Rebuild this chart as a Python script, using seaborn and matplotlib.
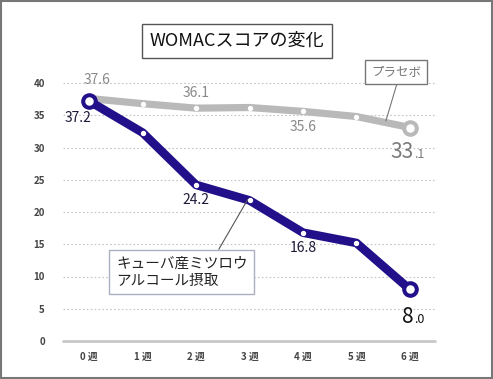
import numpy as np
import pandas as pd
import matplotlib
matplotlib.use('Agg')
import matplotlib.pyplot as plt
import seaborn as sns

# Data
weeks        = [0, 1, 2, 3, 4, 5, 6]
week_labels  = ['0 週', '1 週', '2 週', '3 週', '4 週', '5 週', '6 週']
placebo      = [37.6, 36.8, 36.1, 36.2, 35.6, 34.8, 33.1]
beeswax      = [37.2, 32.3, 24.2, 21.8, 16.8, 15.2, 8.0]
yticks       = [0, 5, 10, 15, 20, 25, 30, 35, 40]

title_text   = 'WOMACスコアの変化'
placebo_name = 'プラセボ'
beeswax_name = 'キューバ産ミツロウ\nアルコール摂取'

PURPLE = '#21108a'
GREY   = '#b9b9b9'

df = pd.DataFrame({'week': weeks * 2,
                   'score': placebo + beeswax,
                   'group': ['placebo'] * 7 + ['beeswax'] * 7})

sns.set_theme(style='white')
plt.rcParams['font.family'] = ['Noto Sans CJK JP', 'DejaVu Sans']

W, H = 493, 379
fig = plt.figure(figsize=(W / 100, H / 100), dpi=100)
ax = fig.add_axes([63 / W, 38 / H, (435 - 63) / W, (341 - 83) / H])

# grid + base line
for y in yticks[1:]:
    ax.axhline(y, color='#c4c4c4', lw=0.8, ls=(0, (1.5, 2)), zorder=0)
ax.axhline(0, color='#c8c8c8', lw=2, zorder=1)

sns.lineplot(data=df[df.group == 'placebo'], x='week', y='score', color=GREY,
             lw=5.2, ax=ax, solid_capstyle='round', solid_joinstyle='round', zorder=2)
sns.lineplot(data=df[df.group == 'beeswax'], x='week', y='score', color=PURPLE,
             lw=6.2, ax=ax, solid_capstyle='round', solid_joinstyle='round', zorder=3)
for ln in ax.lines:
    ln.set_clip_on(False)

# markers: white dots inside, big rings on the end points
ax.scatter(weeks[1:6], placebo[1:6], s=8, color='white', zorder=4, clip_on=False)
ax.scatter(weeks[1:6], beeswax[1:6], s=8, color='white', zorder=5, clip_on=False)
ax.scatter([weeks[6]], [placebo[6]], s=120, color=GREY, zorder=4, clip_on=False)
ax.scatter([weeks[6]], [placebo[6]], s=26, color='white', zorder=4, clip_on=False)
ax.scatter([weeks[0], weeks[6]], [beeswax[0], beeswax[6]], s=120, color=PURPLE, zorder=5, clip_on=False)
ax.scatter([weeks[0], weeks[6]], [beeswax[0], beeswax[6]], s=26, color='white', zorder=6, clip_on=False)

ax.set_xlim(-0.49, 6.47)
ax.set_ylim(0, 40)
ax.set_xticks(weeks)
ax.set_xticklabels(week_labels)
ax.set_yticks(yticks)
ax.set_xlabel('')
ax.set_ylabel('')
ax.tick_params(axis='both', length=0, labelsize=7, colors='#444444')
ax.tick_params(axis='x', pad=8)
ax.tick_params(axis='y', pad=13)
for lab in ax.get_xticklabels() + ax.get_yticklabels():
    lab.set_fontweight('bold')
for s in ax.spines.values():
    s.set_visible(False)

# value labels
def value(x, y, txt, dx, dy, color, size=10):
    ax.annotate(txt, (x, y), xytext=(dx, dy), textcoords='offset points',
                ha='center', va='center', fontsize=size, color=color)

value(weeks[0], placebo[0], '37.6', 6, 13, '#8a8a8a')
value(weeks[2], placebo[2], '36.1', 0, 11, '#8a8a8a')
value(weeks[4], placebo[4], '35.6', 0, -11, '#8a8a8a')
value(weeks[0], beeswax[0], '37.2', -8, -12, '#1d1a3a')
value(weeks[2], beeswax[2], '24.2', 0, -11, '#1d1a3a')
value(weeks[4], beeswax[4], '16.8', 0, -11, '#1d1a3a')

# big end labels with a small decimal
def end_label(x, y, val, dy, color):
    whole, dec = f'{val:.1f}'.split('.')
    ax.annotate(whole, (x, y), xytext=(3, dy), textcoords='offset points',
                ha='right', va='baseline', fontsize=15, color=color)
    ax.annotate('.' + dec, (x, y), xytext=(3, dy), textcoords='offset points',
                ha='left', va='baseline', fontsize=9, color=color)

end_label(weeks[6], placebo[6], placebo[6], -22, '#7a7a7a')
end_label(weeks[6], beeswax[6], beeswax[6], -24, '#111111')

# title box
fig.text(237 / W, 1 - 41 / H, title_text, ha='center', va='center', fontsize=13,
         color='#111111',
         bbox=dict(boxstyle='square,pad=0.45', fc='white', ec='#555555', lw=1))

# series name boxes with leader lines
ax.annotate(placebo_name, xy=(5.55, 34.1), xycoords='data',
            xytext=(396, H - 72), textcoords='figure pixels',
            ha='center', va='center', fontsize=9, color='#777777',
            bbox=dict(boxstyle='square,pad=0.45', fc='white', ec='#777777', lw=1),
            arrowprops=dict(arrowstyle='-', color='#777777', lw=0.8,
                            shrinkA=0, shrinkB=0, relpos=(0.55, 0)))
ax.annotate(beeswax_name, xy=(2.97, 22.0), xycoords='data',
            xytext=(116, H - 272), textcoords='figure pixels',
            ha='left', va='center', fontsize=10.5, color='#222222', linespacing=1.3,
            bbox=dict(boxstyle='square,pad=0.45', fc='white', ec='#aab0c0', lw=1),
            arrowprops=dict(arrowstyle='-', color='#555555', lw=0.8,
                            shrinkA=0, shrinkB=0, relpos=(0.75, 1)))

# outer frame
fig.patches.append(plt.Rectangle((0.002, 0.003), 0.996, 0.994, transform=fig.transFigure,
                                 fill=False, ec='#777777', lw=1.5))

fig.savefig('out.png', dpi=100)
